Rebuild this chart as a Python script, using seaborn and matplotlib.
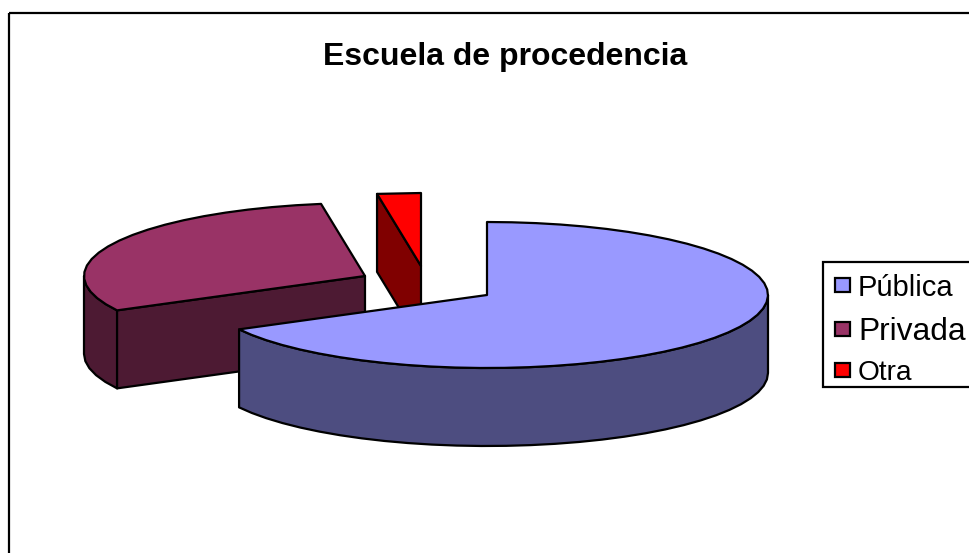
import numpy as np
import matplotlib
matplotlib.use('Agg')
import matplotlib.pyplot as plt
from matplotlib.patches import Polygon, Rectangle
import seaborn as sns

titulo = 'Escuela de procedencia'
categorias = ['Pública', 'Privada', 'Otra']
valores = [67.2, 30.3, 2.5]
colores = ['#9999FF', '#993366', '#FF0000']
colores_lado = ['#4D4D80', '#4D1A33', '#800000']

sns.set_style('white')
plt.rcParams['font.family'] = ['Liberation Sans', 'DejaVu Sans']

# pie geometry in image pixels
centros = [(487, 295), (365, 276), (421, 266)]
RX, RY, DEPTH = 281, 73, 78
LW = 1.6

# legend layout in image pixels
leyenda_y = [285, 329, 370]
leyenda_pt = [21, 22.9, 20.2]


def arco(c, a0, a1):
    # angles clockwise from 12 o'clock, coarse on purpose: the edge is bumpy in the original
    t = np.radians(np.linspace(a0, a1, max(int(abs(a1 - a0) / 5), 1) + 1))
    return np.column_stack([c[0] + RX * np.sin(t), c[1] - RY * np.cos(t)])


def bajar(p):
    return p + np.array([0, DEPTH])


def cara(ax, puntos, color, z):
    ax.add_patch(Polygon(puntos, closed=True, facecolor=color, edgecolor='black',
                         linewidth=LW, joinstyle='round', zorder=z))


fig = plt.figure(figsize=(9.69, 5.53), dpi=100)
ax = fig.add_axes([0, 0, 1, 1])
ax.set_xlim(0, 969)
ax.set_ylim(553, 0)
ax.axis('off')

ax.add_patch(Rectangle((9, 13), 1100, 700, fill=False, edgecolor='black', linewidth=LW))

bordes = np.cumsum([0] + valores) / sum(valores) * 360
z = 10
# back to front: Otra, Privada, Publica
for i in [2, 1, 0]:
    c = np.array(centros[i], dtype=float)
    a0, a1 = bordes[i], bordes[i + 1]
    borde = arco(c, a0, a1)

    # outer wall, only the part on the front half
    f0, f1 = max(a0, 90), min(a1, 270)
    if f1 > f0:
        muro = arco(c, f0, f1)
        cara(ax, np.vstack([muro, bajar(muro)[::-1]]), colores_lado[i], z)
        z += 1

    # cut face
    if i > 0:
        r = borde[0]
        cara(ax, np.array([c, r, bajar(r), bajar(c)]), colores_lado[i], z)
        z += 1

    cara(ax, np.vstack([c, borde]), colores[i], z)
    z += 1

ax.text(505, 57, titulo, ha='center', va='center', fontsize=23, fontweight='bold',
        color='black', zorder=30)

# legend box runs off the right edge like in the original
ax.add_patch(Rectangle((823, 262), 200, 125, facecolor='white', edgecolor='black', linewidth=LW, zorder=40))
for nombre, col, y, pt in zip(categorias, colores, leyenda_y, leyenda_pt):
    ax.add_patch(Rectangle((835, y - 7), 15, 14, facecolor=col, edgecolor='black', linewidth=LW, zorder=41))
    ax.text(858, y, nombre, ha='left', va='center_baseline', fontsize=pt, color='black', zorder=41)

fig.savefig('out.png', dpi=100)
